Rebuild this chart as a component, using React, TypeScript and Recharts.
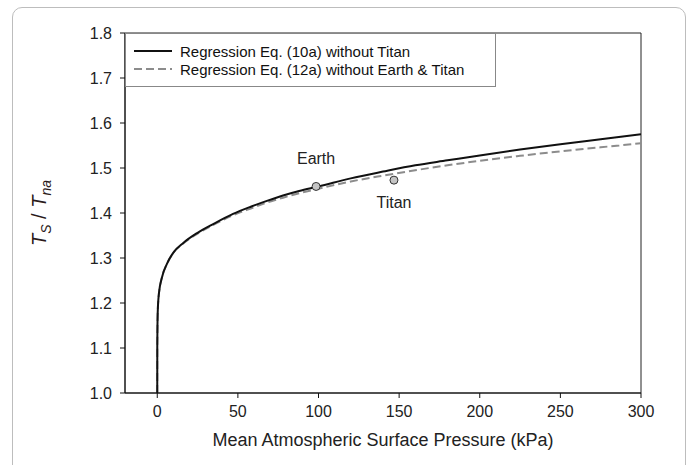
import React from 'react';
import { ComposedChart, Line, Scatter, XAxis, YAxis, ReferenceArea, LabelList } from 'recharts';

const pressure = [0, 0.02, 0.3, 1, 3, 6, 10, 16, 25, 35, 47, 58, 68, 78, 88, 100, 120, 140, 160, 180, 200, 225, 250, 275, 300];
const eq10a = [1.0, 1.1, 1.18, 1.22, 1.258, 1.287, 1.312, 1.333, 1.356, 1.376, 1.398, 1.414, 1.427, 1.439, 1.449, 1.459, 1.477, 1.492, 1.506, 1.517, 1.528, 1.541, 1.553, 1.564, 1.575];
const eq12a = [1.0, 1.1, 1.18, 1.22, 1.258, 1.287, 1.312, 1.332, 1.354, 1.374, 1.395, 1.41, 1.423, 1.434, 1.444, 1.454, 1.47, 1.483, 1.495, 1.506, 1.516, 1.527, 1.537, 1.546, 1.555];

const bodies = ['Earth', 'Titan'];
const bodyPressure = [98.5, 146.8];
const bodyRatio = [1.459, 1.473];

const xTicks = [0, 50, 100, 150, 200, 250, 300];
const yTicks = [1.0, 1.1, 1.2, 1.3, 1.4, 1.5, 1.6, 1.7, 1.8];

const seriesNames = ['Regression Eq. (10a) without Titan', 'Regression Eq. (12a) without Earth & Titan'];

const line10a = pressure.map((p, i) => ({ p, v: eq10a[i] }));
const line12a = pressure.map((p, i) => ({ p, v: eq12a[i] }));
const earth = [{ p: bodyPressure[0], v: bodyRatio[0], name: bodies[0] }];
const titan = [{ p: bodyPressure[1], v: bodyRatio[1], name: bodies[1] }];

const font = '"Liberation Sans", Arial, sans-serif';

const legendItems = [
  { name: seriesNames[0], color: '#111', dash: undefined },
  { name: seriesNames[1], color: '#8c8c8c', dash: '8 4' },
];

const dot = (props: any) => <circle cx={props.cx} cy={props.cy} r={4} fill="#c4c4c4" stroke="#333" strokeWidth={1} />;

export default function App() {
  return (
    <div style={{ position: 'absolute', left: 0, top: 0, width: 693, height: 465, background: '#fff', overflow: 'hidden', fontFamily: font }}>
      <div style={{ position: 'absolute', left: 12, top: 7, width: 672, height: 520, border: '1px solid #bdbdbd', borderRadius: 10 }} />
      <ComposedChart width={693} height={465} margin={{ top: 33, right: 52, bottom: 42, left: 65 }}>
        <XAxis type="number" dataKey="p" domain={[-20, 300]} ticks={xTicks} allowDataOverflow
          stroke="#111" tickSize={5} tickMargin={8} height={30}
          tick={{ fill: '#222', fontSize: 16, fontFamily: font }} />
        <YAxis type="number" dataKey="v" domain={[1.0, 1.8]} ticks={yTicks} allowDataOverflow
          stroke="#111" tickSize={5} tickMargin={8} width={60}
          tickFormatter={(t: number) => t.toFixed(1)}
          tick={{ fill: '#222', fontSize: 16, fontFamily: font }} />
        <ReferenceArea x1={-20} x2={300} y1={1.0} y2={1.8} fill="none" stroke="#222" strokeWidth={1} />
        <Line data={line12a} dataKey="v" name={seriesNames[1]} type="monotone"
          stroke="#8c8c8c" strokeWidth={2} strokeDasharray="8 4" dot={false} isAnimationActive={false} />
        <Line data={line10a} dataKey="v" name={seriesNames[0]} type="monotone"
          stroke="#111" strokeWidth={2} dot={false} isAnimationActive={false} />
        <Scatter data={earth} dataKey="v" shape={dot} isAnimationActive={false}>
          <LabelList dataKey="name" position="top" offset={18} fill="#222" fontSize={16} fontFamily={font} />
        </Scatter>
        <Scatter data={titan} dataKey="v" shape={dot} isAnimationActive={false}>
          <LabelList dataKey="name" position="bottom" offset={12} fill="#222" fontSize={16} fontFamily={font} />
        </Scatter>
      </ComposedChart>
      <div style={{ position: 'absolute', left: 125, top: 33, width: 371, height: 54, border: '1px solid #888', background: '#fff', boxSizing: 'border-box', paddingTop: 8, fontSize: 15, color: '#111' }}>
        {legendItems.map((e) => (
          <div key={e.name} style={{ display: 'flex', alignItems: 'center', height: 18 }}>
            <svg width={46} height={10} style={{ marginLeft: 8 }}>
              <line x1={0} y1={5} x2={38} y2={5} stroke={e.color} strokeWidth={2} strokeDasharray={e.dash} />
            </svg>
            <span>{e.name}</span>
          </div>
        ))}
      </div>
      <div style={{ position: 'absolute', left: 41, top: 213, transform: 'translate(-50%, -50%) rotate(-90deg)', whiteSpace: 'nowrap', fontSize: 20, color: '#2a1a1a' }}>
        <i>T</i><sub style={{ fontSize: 14 }}><i>S</i></sub> / <i>T</i><sub style={{ fontSize: 14 }}><i>na</i></sub>
      </div>
      <div style={{ position: 'absolute', left: 383, top: 440, transform: 'translate(-50%, -50%)', whiteSpace: 'nowrap', fontSize: 18, color: '#222' }}>
        Mean Atmospheric Surface Pressure (kPa)
      </div>
    </div>
  );
}
